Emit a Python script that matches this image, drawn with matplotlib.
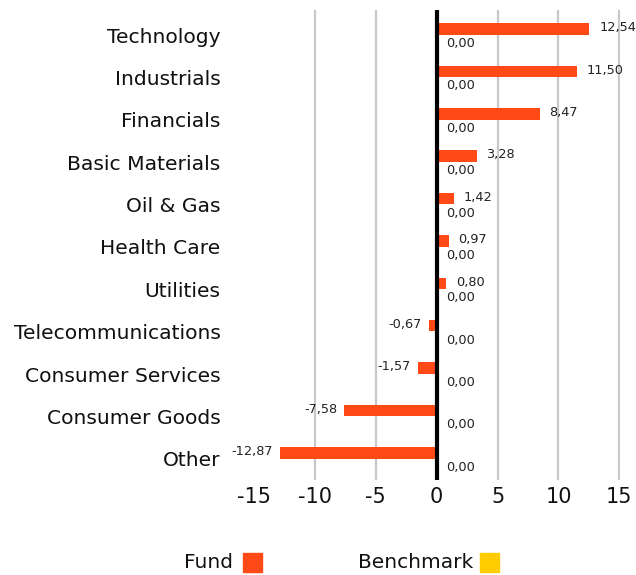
import matplotlib
matplotlib.use("Agg")
import matplotlib.pyplot as plt
from matplotlib.patches import Rectangle
import numpy as np

plt.rcParams['font.family'] = ['DejaVu Sans']

categories = ["Technology", "Industrials", "Financials", "Basic Materials", "Oil & Gas",
              "Health Care", "Utilities", "Telecommunications", "Consumer Services",
              "Consumer Goods", "Other"]
fund = [12.54, 11.50, 8.47, 3.28, 1.42, 0.97, 0.80, -0.67, -1.57, -7.58, -12.87]
benchmark = [0.00] * 11
xticks = [-15, -10, -5, 0, 5, 10, 15]

FUND_C = "#FF4A17"
BENCH_C = "#FFCC00"

def fmt(v):
    return f"{v:.2f}".replace(".", ",")

W, H = 636, 575
fig = plt.figure(figsize=(W / 100, H / 100), dpi=100)
ax = fig.add_axes([254 / W, 1 - 480 / H, (620 - 254) / W, (480 - 10) / H])

y = np.arange(len(categories))
bh = 0.27
ax.barh(y - 0.14, fund, height=bh, color=FUND_C, zorder=3)
ax.barh(y + 0.14, benchmark, height=bh, color=BENCH_C, zorder=3)

for yi, v in zip(y, fund):
    if v >= 0:
        ax.text(v + 0.8, yi - 0.17, fmt(v), ha="left", va="center", fontsize=9.3, color="#222222")
    else:
        ax.text(v - 0.6, yi - 0.17, fmt(v), ha="right", va="center", fontsize=9.3, color="#222222")
for yi, v in zip(y, benchmark):
    ax.text(v + 0.75, yi + 0.2, fmt(v), ha="left", va="center", fontsize=9.3, color="#222222")

for t in xticks:
    if t not in (0, -15):
        ax.axvline(t, color="#c8c8c8", lw=1.6, zorder=1)
ax.axvline(0, color="black", lw=3, zorder=4)

ax.set_xlim(-15, 15.05)
ax.set_ylim(len(categories) - 0.5, -0.59)
ax.set_xticks(xticks)
ax.set_xticklabels([str(t) for t in xticks], fontsize=15, color="#111111")
ax.set_yticks(y)
ax.set_yticklabels(categories, fontsize=14.6, color="#111111")
ax.tick_params(axis="both", length=0)
ax.tick_params(axis="y", pad=24)
ax.tick_params(axis="x", pad=5)
for s in ax.spines.values():
    s.set_visible(False)

# legend
fig.text(184 / W, 1 - 563 / H, "Fund", ha="left", va="center", fontsize=14.5, color="#111111")
fig.patches.append(Rectangle((243 / W, 1 - 572 / H), 19 / W, 19 / H, transform=fig.transFigure,
                             color=FUND_C, figure=fig))
fig.text(358 / W, 1 - 563 / H, "Benchmark", ha="left", va="center", fontsize=14.5, color="#111111")
fig.patches.append(Rectangle((480 / W, 1 - 572 / H), 19 / W, 19 / H, transform=fig.transFigure,
                             color=BENCH_C, figure=fig))

fig.savefig("out.png", dpi=100)
